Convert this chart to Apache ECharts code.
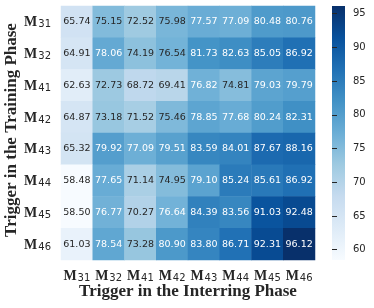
<!DOCTYPE html>
<html><head><meta charset="utf-8">
<script src="https://cdn.jsdelivr.net/npm/echarts@6/dist/echarts.min.js"></script>
<style>html,body{margin:0;padding:0;background:#fff}#c{width:374px;height:308px}</style>
</head><body><div id="c"></div>
<script>
const xSubs = ['31','32','41','42','43','44','45','46'];
const ySubs = ['31','32','41','42','43','44','45','46'];
const xCategories = xSubs.map(s => 'M' + s);
const yCategories = ySubs.map(s => 'M' + s);
const row31 = [65.74, 75.15, 72.52, 75.98, 77.57, 77.09, 80.48, 80.76];
const row32 = [64.91, 78.06, 74.19, 76.54, 81.73, 82.63, 85.05, 86.92];
const row41 = [62.63, 72.73, 68.72, 69.41, 76.82, 74.81, 79.03, 79.79];
const row42 = [64.87, 73.18, 71.52, 75.46, 78.85, 77.68, 80.24, 82.31];
const row43 = [65.32, 79.92, 77.09, 79.51, 83.59, 84.01, 87.67, 88.16];
const row44 = [58.48, 77.65, 71.14, 74.95, 79.10, 85.24, 85.61, 86.92];
const row45 = [58.50, 76.77, 70.27, 76.64, 84.39, 83.56, 91.03, 92.48];
const row46 = [61.03, 78.54, 73.28, 80.90, 83.80, 86.71, 92.31, 96.12];
const rows = [row31, row32, row41, row42, row43, row44, row45, row46];
const colorbarTicks = [60, 65, 70, 75, 80, 85, 90, 95];
const xTitle = 'Trigger in the Interring Phase';
const yTitle = 'Trigger in the Training Phase';

const blues = ['#f7fbff','#deebf7','#c6dbef','#9ecae1','#6baed6','#4292c6','#2171b5','#08519c','#08306b'];
const all = rows.flat();
const vmin = Math.min(...all), vmax = Math.max(...all);
const textThreshold = 76.6;

const data = [];
rows.forEach((r, yi) => r.forEach((v, xi) => {
  data.push({value: [xi, yi, v], label: {color: v >= textThreshold ? '#ffffff' : '#262626'}});
}));

const G = {left: 61, top: 6, width: 254, height: 254};
const CB = {left: 332, top: 6, width: 13, height: 254};

const rich = {
  m: {fontFamily: 'Liberation Serif', fontWeight: 'bold', fontSize: 14, color: '#262626', verticalAlign: 'bottom', lineHeight: 16},
  s: {fontFamily: 'DejaVu Sans', fontSize: 10, color: '#262626', verticalAlign: 'bottom', lineHeight: 12, padding: [0,0,0,1]}
};
const fmt = v => '{m|M}{s|' + v.slice(1) + '}';
const titleFont = 'bold 17px "Liberation Serif"';

const chart = echarts.init(document.getElementById('c'), null, {renderer: 'canvas'});
chart.setOption({
  animation: false,
  grid: [
    {left: G.left, top: G.top, width: G.width, height: G.height, containLabel: false, outerBoundsMode: 'none'},
    {left: CB.left, top: CB.top, width: CB.width, height: CB.height, containLabel: false, outerBoundsMode: 'none'}
  ],
  xAxis: [
    {type: 'category', data: xCategories, gridIndex: 0,
     axisLine: {show: false}, axisTick: {show: false}, splitLine: {show: false},
     axisLabel: {formatter: fmt, rich: rich, margin: 7, interval: 0}},
    {type: 'value', gridIndex: 1, show: false, min: 0, max: 1}
  ],
  yAxis: [
    {type: 'category', data: yCategories, gridIndex: 0, inverse: true,
     axisLine: {show: false}, axisTick: {show: false}, splitLine: {show: false},
     axisLabel: {formatter: fmt, rich: rich, margin: 10, interval: 0}},
    {type: 'value', gridIndex: 1, position: 'right', min: vmin, max: vmax,
     axisLine: {show: false}, splitLine: {show: false},
     axisTick: {show: true, length: 5, inside: false, customValues: colorbarTicks, lineStyle: {color: '#262626', width: 1}},
     axisLabel: {customValues: colorbarTicks, margin: 8, fontFamily: 'DejaVu Sans', fontSize: 10, color: '#262626'}}
  ],
  visualMap: {show: false, type: 'continuous', min: vmin, max: vmax, dimension: 2, seriesIndex: 0,
    inRange: {color: blues}},
  graphic: [{
    type: 'rect', shape: {x: CB.left, y: CB.top, width: CB.width, height: CB.height},
    style: {fill: new echarts.graphic.LinearGradient(0, 1, 0, 0,
      blues.map((c, i) => ({offset: i / (blues.length - 1), color: c})))},
    z: 0
  }, {
    type: 'text', x: G.left + G.width / 2, y: 292,
    style: {text: xTitle, font: titleFont, fill: '#262626', align: 'center', verticalAlign: 'middle'}
  }, {
    type: 'text', x: 12, y: 130, rotation: Math.PI / 2,
    style: {text: yTitle, font: titleFont, fill: '#262626', align: 'center', verticalAlign: 'middle'}
  }],
  series: [{
    type: 'heatmap', xAxisIndex: 0, yAxisIndex: 0, data: data,
    label: {show: true, formatter: p => p.value[2].toFixed(2), fontFamily: 'DejaVu Sans', fontSize: 9.5},
    itemStyle: {borderWidth: 0},
    emphasis: {disabled: true}
  }]
});
</script></body></html>
